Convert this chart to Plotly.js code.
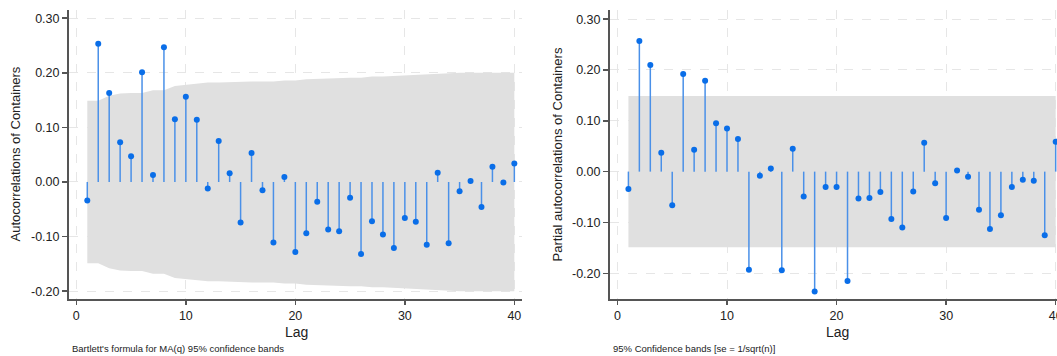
<!DOCTYPE html>
<html>
<head>
<meta charset="utf-8">
<script src="https://cdn.plot.ly/plotly-3.0.1.min.js"></script>
<style>html,body{margin:0;padding:0;background:#fff;}#chart{width:1057px;height:356px;}</style>
</head>
<body>
<div id="chart"></div>
<script>
// ---- data ----
const lags = [1,2,3,4,5,6,7,8,9,10,11,12,13,14,15,16,17,18,19,20,21,22,23,24,25,26,27,28,29,30,31,32,33,34,35,36,37,38,39,40];
const acf = [-0.034,0.253,0.163,0.073,0.047,0.201,0.013,0.247,0.115,0.156,0.114,-0.012,0.075,0.016,-0.074,0.053,-0.015,-0.111,0.009,-0.128,
             -0.094,-0.036,-0.087,-0.090,-0.029,-0.132,-0.072,-0.096,-0.121,-0.066,-0.073,-0.115,0.017,-0.112,-0.017,0.002,-0.046,0.028,-0.001,0.034];
const acfBand = [0.149,0.149,0.158,0.162,0.163,0.163,0.168,0.168,0.176,0.178,0.181,0.182,0.182,0.183,0.183,0.184,0.184,0.184,0.186,0.186,
                 0.188,0.189,0.189,0.190,0.191,0.191,0.193,0.193,0.194,0.196,0.197,0.197,0.199,0.199,0.200,0.200,0.200,0.200,0.200,0.200];
const pacf = [-0.034,0.257,0.210,0.037,-0.066,0.192,0.043,0.179,0.095,0.085,0.064,-0.193,-0.008,0.006,-0.194,0.045,-0.049,-0.236,-0.030,-0.030,
              -0.215,-0.053,-0.052,-0.040,-0.093,-0.110,-0.039,0.057,-0.023,-0.091,0.002,-0.010,-0.075,-0.113,-0.086,-0.030,-0.016,-0.018,-0.125,0.059];
const pacfBandValue = 0.149;
const yTicks = [-0.2,-0.1,0,0.1,0.2,0.3];
const xTicks = [0,10,20,30,40];
const leftTitle = "Autocorrelations of Containers";
const rightTitle = "Partial autocorrelations of Containers";
const xTitle = "Lag";
const leftNote = "Bartlett's formula for MA(q) 95% confidence bands";
const rightNote = "95% Confidence bands [se = 1/sqrt(n)]";

// ---- styles ----
const FONT = "Liberation Sans, Arial, Helvetica, sans-serif";
const bandColor = "#e0e0e0";
const stemColor = "#4a90e8";
const dotColor = "#0a6ee8";
const axisColor = "#555555";
const gridColor = "#e6e6e6";

function stems(vals, xa, ya){
  const x=[], y=[];
  lags.forEach((l,i)=>{ x.push(l,l,null); y.push(0,vals[i],null); });
  return {x, y, xaxis:xa, yaxis:ya, mode:'lines', line:{color:stemColor,width:1.5}, hoverinfo:'skip', showlegend:false, type:'scatter'};
}
function dots(vals, xa, ya){
  return {x:lags, y:vals, xaxis:xa, yaxis:ya, mode:'markers', marker:{color:dotColor,size:6}, showlegend:false, type:'scatter'};
}
function band(up, lo, xa, ya){
  return [
    {x:lags, y:up, xaxis:xa, yaxis:ya, mode:'lines', line:{width:0,color:bandColor}, hoverinfo:'skip', showlegend:false, type:'scatter'},
    {x:lags, y:lo, xaxis:xa, yaxis:ya, mode:'lines', line:{width:0,color:bandColor}, fill:'tonexty', fillcolor:bandColor, hoverinfo:'skip', showlegend:false, type:'scatter'}
  ];
}

const pUp = lags.map(()=>pacfBandValue), pLo = lags.map(()=>-pacfBandValue);
const traces = [
  ...band(acfBand, acfBand.map(v=>-v), 'x', 'y'),
  stems(acf,'x','y'), dots(acf,'x','y'),
  ...band(pUp, pLo, 'x2', 'y2'),
  stems(pacf,'x2','y2'), dots(pacf,'x2','y2')
];

const W = 1057;
const xCommon = {
  tickvals:xTicks, ticktext:xTicks.map(String), ticks:'outside', ticklen:4, tickwidth:1.5, tickcolor:axisColor,
  showline:true, linecolor:axisColor, linewidth:2, showgrid:true, gridcolor:gridColor, griddash:'dash', gridwidth:1,
  zeroline:false, tickfont:{family:FONT,size:12.5,color:'#222'}, ticklabeloverflow:'allow'
};
const yCommon = {
  tickvals:yTicks, ticktext:yTicks.map(v=>v.toFixed(2)), ticks:'outside', ticklen:5, tickwidth:1.5, tickcolor:axisColor,
  showline:true, linecolor:axisColor, linewidth:2, showgrid:true, gridcolor:gridColor, griddash:'dash', gridwidth:1,
  zeroline:false, tickfont:{family:FONT,size:12.5,color:'#222'}
};

const layout = {
  width:1057, height:356,
  margin:{l:0,r:0,t:10,b:57},
  paper_bgcolor:'#fff', plot_bgcolor:'#fff',
  showlegend:false,
  xaxis:Object.assign({}, xCommon, {domain:[69/W, 522/W], range:[-0.67,40.7], anchor:'y'}),
  yaxis:Object.assign({}, yCommon, {range:[-0.2143,0.315], anchor:'x'}),
  xaxis2:Object.assign({}, xCommon, {domain:[610/W, 1], range:[-0.68,40.12], anchor:'y2'}),
  yaxis2:Object.assign({}, yCommon, {range:[-0.2506,0.318], anchor:'x2'}),
  annotations:[
    {text:leftTitle, xref:'paper', yref:'paper', x:15/W, y:0.5, textangle:-90, showarrow:false, xanchor:'center', yanchor:'middle', font:{family:FONT,size:13,color:'#222'}},
    {text:rightTitle, xref:'paper', yref:'paper', x:557/W, y:0.5, textangle:-90, showarrow:false, xanchor:'center', yanchor:'middle', font:{family:FONT,size:13,color:'#222'}},
    {text:xTitle, xref:'paper', yref:'paper', x:296/W, y:-33/289, showarrow:false, xanchor:'center', yanchor:'middle', font:{family:FONT,size:14,color:'#222'}},
    {text:xTitle, xref:'paper', yref:'paper', x:837/W, y:-33/289, showarrow:false, xanchor:'center', yanchor:'middle', font:{family:FONT,size:14,color:'#222'}},
    {text:leftNote, xref:'paper', yref:'paper', x:70/W, y:-49/289, showarrow:false, xanchor:'left', yanchor:'middle', font:{family:FONT,size:9.5,color:'#222'}},
    {text:rightNote, xref:'paper', yref:'paper', x:611/W, y:-49/289, showarrow:false, xanchor:'left', yanchor:'middle', font:{family:FONT,size:9.5,color:'#222'}}
  ]
};

Plotly.newPlot('chart', traces, layout, {displayModeBar:false, staticPlot:true});
</script>
</body>
</html>
